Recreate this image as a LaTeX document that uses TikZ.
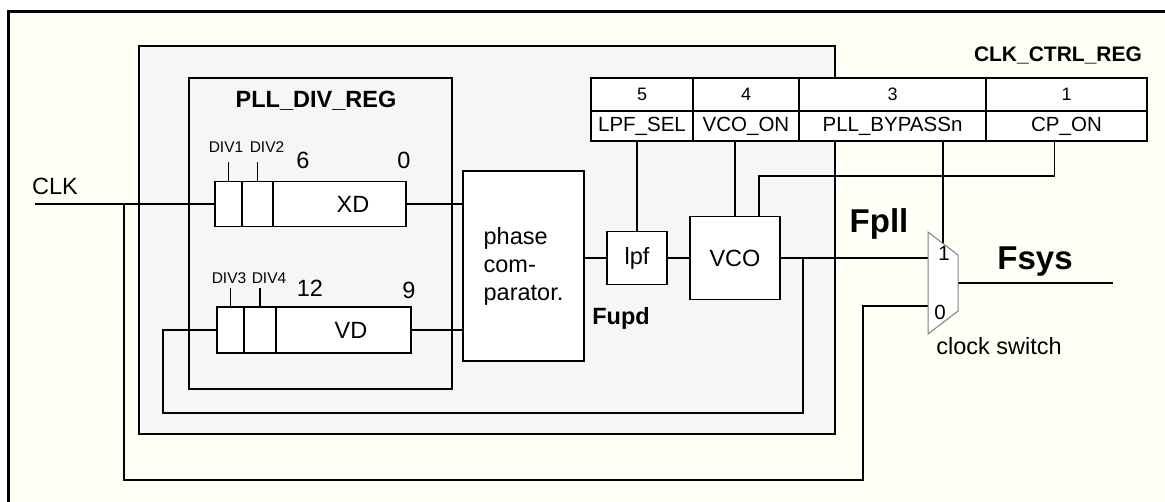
\documentclass[tikz,border=0pt]{standalone}
\usepackage{fontspec}
\setmainfont{Liberation Sans}
\definecolor{pllIvory}{HTML}{FFFFF5}
\definecolor{pllGrey}{HTML}{F6F6F6}
\definecolor{pllMux}{HTML}{7F7F7F}
\begin{document}
\begin{tikzpicture}[x=1pt,y=-1pt,line join=miter]
\useasboundingbox (0,0) rectangle (1165,501);
\clip (0,0) rectangle (1165,501);
\path[fill=white] (0,0) rectangle (1165,501);
\path[fill=pllIvory,draw=black,line width=3pt] (8.5,11.5) rectangle (1200,540);
\tikzset{wire/.style={draw=black,line width=1.8pt},cell/.style={draw=black,fill=white,line width=1.8pt,inner sep=0pt},greybox/.style={draw=black,fill=pllGrey,line width=1.8pt,inner sep=0pt},lbl/.style={font=\fontsize{23.5}{28}\selectfont},divlbl/.style={font=\fontsize{15.5}{18}\selectfont},bitlbl/.style={font=\fontsize{18}{21}\selectfont},fldlbl/.style={font=\fontsize{20.5}{24}\selectfont},title/.style={font=\bfseries\fontsize{23.5}{28}\selectfont},ctitle/.style={font=\bfseries\fontsize{21}{25}\selectfont},sig/.style={font=\bfseries\fontsize{33}{38}\selectfont}}
\node[greybox,minimum width=696pt,minimum height=388pt] (pll) at (487,240) {};
\node[greybox,minimum width=263pt,minimum height=311pt] (divreg) at (320.5,233.5) {};
\node[title] (divtitle) at (316,101) {PLL\_DIV\_REG};
\node[cell,minimum width=27pt,minimum height=45pt] (xda) at (228.5,204) {};
\node[cell,minimum width=31pt,minimum height=45pt] (xdb) at (257.5,204) {};
\node[cell,minimum width=133pt,minimum height=45pt] (xd) at (339.5,204) {};
\node[lbl] (xdtxt) at (353,204) {XD};
\draw[wire] (xda.north) -- ++(0,-19); \draw[wire] (xdb.north) -- ++(0,-19);
\node[divlbl] (div1) at (226,147) {DIV1}; \node[divlbl] (div2) at (267,147) {DIV2};
\node[lbl] (xdhi) at (303,160) {6}; \node[lbl] (xdlo) at (404,160) {0};
\node[cell,minimum width=27pt,minimum height=46pt] (vda) at (230.5,330) {};
\node[cell,minimum width=32pt,minimum height=46pt] (vdb) at (260,330) {};
\node[cell,minimum width=135pt,minimum height=46pt] (vd) at (343.5,330) {};
\node[lbl] (vdtxt) at (351,330) {VD};
\draw[wire] (vda.north) -- ++(0,-18); \draw[wire] (vdb.north) -- ++(0,-18);
\node[divlbl] (div3) at (229,278) {DIV3}; \node[divlbl] (div4) at (269,278) {DIV4};
\node[lbl] (vdhi) at (310,288) {12}; \node[lbl] (vdlo) at (409,290) {9};
\node[cell,lbl,align=left,minimum width=121pt,minimum height=190pt] (pcomp) at (523.5,266) {phase\\com-\\parator.};
\node[cell,lbl,minimum width=60pt,minimum height=53pt] (lpf) at (637,258) {lpf};
\node[cell,lbl,minimum width=90pt,minimum height=83pt] (vco) at (735,258) {VCO};
\node[title] (fupd) at (621,318) {Fupd};
\node[cell,bitlbl,minimum width=102pt,minimum height=33pt] (b5) at (642,94.5) {5};
\node[cell,bitlbl,minimum width=106pt,minimum height=33pt] (b4) at (746,94.5) {4};
\node[cell,bitlbl,minimum width=187pt,minimum height=33pt] (b3) at (892.5,94.5) {3};
\node[cell,bitlbl,minimum width=161pt,minimum height=33pt] (b1) at (1066.5,94.5) {1};
\node[cell,fldlbl,minimum width=102pt,minimum height=30pt] (lpfsel) at (642,126) {LPF\_SEL};
\node[cell,fldlbl,minimum width=106pt,minimum height=30pt] (vcoon) at (746,126) {VCO\_ON};
\node[cell,fldlbl,minimum width=187pt,minimum height=30pt] (bypass) at (892.5,126) {PLL\_BYPASSn};
\node[cell,fldlbl,minimum width=161pt,minimum height=30pt] (cpon) at (1066.5,126) {CP\_ON};
\node[ctitle] (ctrltitle) at (1058,55) {CLK\_CTRL\_REG};
\coordinate (sw1) at (928,258); \coordinate (sw0) at (928,306); \coordinate (swout) at (958,283); \coordinate (swsel) at (943,243.5);
\coordinate (clkin) at (35,204); \coordinate (clkj) at (124,204); \coordinate (clkb) at (863,480); \coordinate (fsysout) at (1113,283);
\coordinate (fbj) at (803,258); \coordinate (fbl) at (163,413); \coordinate (cpk) at (759,176);
\node[lbl] (clk) at (55,186) {CLK};
\draw[wire] (clkin) -- (xda.west);
\draw[wire] (clkj) |- (clkb) |- (sw0);
\draw[wire] (xd.east) -- (xd.east -| pcomp.west); \draw[wire] (vd.east) -- (vd.east -| pcomp.west);
\draw[wire] (pcomp.east |- lpf.west) -- (lpf.west); \draw[wire] (lpf.east) -- (vco.west);
\draw[wire] (vco.east) -- (sw1);
\draw[wire] (vda.west) -| (fbl) -| (fbj);
\draw[wire] (lpf.north) -- (lpf.north |- lpfsel.south);
\draw[wire] (vco.north) -- (vco.north |- vcoon.south);
\draw[wire] ([xshift=-12pt]cpon.south) |- (cpk) -- (cpk |- vco.north);
\draw[wire] (swsel) -- (swsel |- bypass.south);
\draw[wire] (swout) -- (fsysout);
\path[draw=pllMux,fill=white,line width=1pt] (928,232) -- (958,255) -- (958,311) -- (928,334) -- cycle;
\node[fldlbl] (swone) at (944,253) {1}; \node[fldlbl] (swzero) at (940,312) {0};
\node[lbl] (swname) at (999,346) {clock switch};
\node[sig] (fpll) at (879,224) {Fpll}; \node[sig] (fsys) at (1035,262) {Fsys};
\end{tikzpicture}
\end{document}
